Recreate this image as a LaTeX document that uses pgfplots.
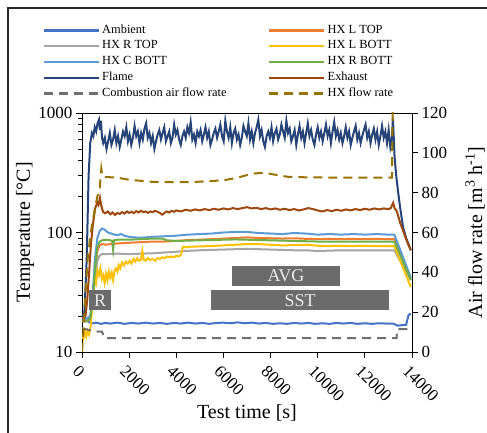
\documentclass[border=0pt]{standalone}
\usepackage{fontspec}
\setmainfont{Liberation Serif}
\usepackage{pgfplots}
\pgfplotsset{compat=1.18}
\definecolor{cAmb}{HTML}{4472C4}
\definecolor{cLT}{HTML}{ED7D31}
\definecolor{cRT}{HTML}{A5A5A5}
\definecolor{cLB}{HTML}{FFC000}
\definecolor{cCB}{HTML}{5B9BD5}
\definecolor{cRB}{HTML}{70AD47}
\definecolor{cFl}{HTML}{264478}
\definecolor{cEx}{HTML}{9E480E}
\definecolor{cCA}{HTML}{707070}
\definecolor{cHF}{HTML}{997300}
\definecolor{cBox}{HTML}{6B6B6B}
\pgfplotsset{mylegend/.style={legend image code/.code={\draw[line width=2.2pt,##1] (0pt,0pt) -- (55pt,0pt);}}}
\begin{document}
\begin{tikzpicture}
\path[use as bounding box] (0,0) rectangle (487pt,433pt);
\draw[line width=1.2pt, black!85] (8pt,0pt) -- (8pt,425pt) -- (487pt,425pt);
\begin{axis}[
  at={(82pt,81pt)}, anchor=south west,
  scale only axis, width=330pt, height=239pt,
  xmin=0, xmax=14000, ymode=log, ymin=10, ymax=1000,
  scaled x ticks=false,
  xtick={0,2000,4000,6000,8000,10000,12000,14000},
  xticklabels={0,2000,4000,6000,8000,10000,12000,14000},
  ytick={10,100,1000}, yticklabels={10,100,1000},
  minor ytick={20,30,40,50,60,70,80,90,200,300,400,500,600,700,800,900},
  xtick pos=bottom, ytick pos=left,
  tick align=outside,
  major tick length=6pt, minor tick length=4pt,
  axis line style={line width=0.9pt, black},
  every tick/.style={black, line width=0.8pt},
  every minor tick/.style={black, line width=0.7pt},
  ticklabel style={font=\fontsize{17}{20}\selectfont},
  xticklabel style={rotate=-45, anchor=north west, inner sep=1pt, xshift=2pt, yshift=-5pt},
  xlabel={Test time [s]}, ylabel={Temperature [°C]},
  label style={font=\fontsize{20}{24}\selectfont},
  xlabel style={at={(axis description cs:0.5,-0.2552)}, anchor=center},
  ylabel style={at={(axis description cs:-0.1727,0.5)}, anchor=center},
  no marks,
  every axis plot/.append style={line width=2pt},
]
% Ambient
\addplot[color=cAmb] coordinates {(0,20)(100,19.5)(200,18.5)(300,17.8)(400,17.3)(600,17.6)(800,17.2)(1000,17.5)(1200,17.3)(1500,17.6)(1800,17.2)(2100,17.5)(2400,17.3)(2700,17.6)(3000,17.3)(3300,17.5)(3600,17.2)(3900,17.5)(4200,17.3)(4500,17.6)(4800,17.3)(5100,17.5)(5400,17.2)(5700,17.5)(6000,17.6)(6300,17.4)(6600,17.7)(6900,17.4)(7200,17.6)(7500,17.3)(7800,17.5)(8100,17.2)(8400,17.4)(8700,17.2)(9000,17.5)(9300,17.3)(9600,17.5)(9900,17.2)(10200,17.4)(10500,17.2)(10800,17.5)(11100,17.3)(11400,17.5)(11700,17.2)(12000,17.4)(12300,17.2)(12600,17.4)(12900,17.3)(13200,17.3)(13400,16.6)(13600,16.8)(13750,16.9)(13850,20.3)(13950,21)};
% HX L TOP
\addplot[color=cLT] coordinates {(0,18)(200,18)(350,19)(450,25)(550,45)(650,70)(750,78)(850,80)(1000,79)(1200,80)(1500,81)(2000,82)(2500,83)(3000,84)(3500,84)(4000,85)(4500,86.5)(5000,87)(5500,88)(6000,89)(6500,90)(7000,91)(7500,90)(8000,89.5)(8500,89)(9000,89.5)(9500,88.5)(10000,88)(10500,88.5)(11000,88)(11500,88.5)(12000,88)(12500,88.5)(13000,88)(13250,88)(13950,41)};
% HX R TOP
\addplot[color=cRT] coordinates {(0,19)(200,19)(350,20)(450,25)(550,40)(650,58)(750,64)(850,66)(1000,66)(1500,66.5)(2000,66)(2500,66.5)(3000,67)(3500,68)(4000,69)(4300,70)(5000,71)(5500,71.5)(6000,72)(6500,72.5)(7000,73)(7500,72.5)(8000,72)(8500,71.5)(9000,71)(9500,71)(10000,70)(10500,70.5)(11000,71)(11500,71)(12000,71)(12500,71)(13000,71)(13250,71)(13950,40)};
% HX L BOTT
\addplot[color=cLB] coordinates {(0,14)(60,13)(120,15)(180,13.5)(240,15)(300,14)(360,16)(420,22)(480,32)(540,42)(600,38)(660,48)(720,44)(780,50)(840,41)(900,44)(960,38)(1020,45)(1080,40)(1140,47)(1200,42)(1260,46)(1320,40)(1380,48)(1440,50)(1500,47)(1560,53)(1620,50)(1700,56)(1780,53)(1860,57)(1940,55)(2020,58)(2100,55)(2180,60)(2260,57)(2340,61)(2420,58)(2500,59)(2560,70)(2620,59)(2700,58)(2800,61)(2900,59)(3000,60)(3100,58)(3200,61)(3300,60)(3400,62)(3500,61)(3600,63)(3700,62)(3800,63)(3900,62)(4000,64)(4100,63)(4200,65)(4280,76)(4400,75)(4600,76)(5000,76.5)(5500,77)(6000,78)(6500,79)(7000,80)(7500,80)(8000,79)(8500,78)(9000,78.5)(9500,79)(10000,77.5)(10500,77)(11000,77.5)(11500,77)(12000,77.5)(12500,77)(13000,77)(13250,77)(13950,35)};
% HX C BOTT
\addplot[color=cCB] coordinates {(0,19)(200,19)(350,20)(450,30)(550,60)(650,90)(750,103)(850,108)(950,106)(1100,100)(1300,97)(1500,95)(1650,97)(1800,94)(2000,92)(2200,91)(2500,90.5)(3000,92)(3500,93)(4000,94)(4500,96)(5000,97)(5500,98)(6000,100)(6500,101)(7000,101)(7500,99)(8000,98)(8500,97)(9000,99)(9500,98)(10000,96)(10500,97)(11000,96)(11500,97)(12000,96)(12500,97)(13000,96)(13250,96)(13950,42)};
% HX R BOTT
\addplot[color=cRB] coordinates {(0,18)(200,18)(350,19)(450,26)(550,50)(650,75)(750,84)(850,86)(1000,87)(1200,86)(1280,85)(1320,72)(1360,86)(1500,87)(2000,87)(2500,88)(3000,89)(3400,89)(3600,86)(4000,85)(4500,85.5)(5000,86)(5500,86.5)(6000,87)(6500,87.5)(7000,87)(7500,86.5)(8000,86)(8500,85.5)(9000,85)(9500,84.5)(10000,84)(10500,84)(11000,84)(11500,84)(12000,84)(12500,84)(13000,84)(13250,84)(13950,40)};
% Flame
\addplot[color=cFl] coordinates {(0,20)(100,21)(200,60)(280,300)(350,560)(420,680)(480,640)(540,760)(600,700)(660,820)(720,880)(760,720)(800,860)(850,620)
(900,560)(970,620)(1040,500)(1110,580)(1180,680)(1250,540)(1320,600)(1390,720)(1460,560)(1530,640)
(1600,520)(1670,600)(1740,700)(1810,640)(1880,760)(1950,580)(2020,660)(2090,540)(2160,620)(2230,780)
(2300,640)(2370,700)(2440,560)(2510,680)(2580,600)(2650,740)(2720,820)(2790,620)(2860,680)(2930,560)
(3000,640)(3070,500)(3140,580)(3210,660)(3280,720)(3350,600)(3420,680)(3490,760)(3560,580)(3630,640)
(3700,700)(3770,560)(3840,620)(3910,800)(3980,660)(4050,720)(4120,600)(4190,540)(4260,640)(4330,700)
(4400,620)(4470,760)(4540,680)(4610,840)(4680,600)(4750,660)(4820,560)(4890,700)(4960,640)(5030,720)
(5100,580)(5170,660)(5240,760)(5310,620)(5380,700)(5450,540)(5520,600)(5590,680)(5660,740)(5730,620)
(5800,700)(5870,800)(5940,640)(6010,580)(6080,860)(6150,700)(6220,620)(6290,760)(6360,560)(6430,680)
(6500,740)(6570,600)(6640,660)(6710,540)(6780,620)(6850,780)(6920,700)(6990,640)(7060,820)(7130,600)
(7200,700)(7270,560)(7340,680)(7410,760)(7480,880)(7550,640)(7620,720)(7690,580)(7760,520)(7830,640)
(7900,700)(7970,620)(8040,760)(8110,580)(8180,680)(8250,740)(8320,600)(8390,660)(8460,800)(8530,700)
(8600,620)(8670,860)(8740,680)(8810,740)(8880,580)(8950,640)(9020,720)(9090,540)(9160,660)(9230,780)
(9300,620)(9370,700)(9440,560)(9510,680)(9580,820)(9650,640)(9720,720)(9790,600)(9860,540)(9930,660)
(10000,760)(10070,620)(10140,700)(10210,580)(10280,680)(10350,800)(10420,640)(10490,720)(10560,560)(10630,700)
(10700,840)(10770,640)(10840,720)(10910,600)(10980,680)(11050,560)(11120,640)(11190,760)(11260,620)(11330,700)
(11400,540)(11470,620)(11540,700)(11610,780)(11680,600)(11750,680)(11820,560)(11890,640)(11960,720)(12030,800)
(12100,620)(12170,700)(12240,560)(12310,660)(12380,740)(12450,600)(12520,700)(12590,540)(12660,640)(12730,780)
(12800,620)(12870,700)(12940,560)(13010,720)(13080,520)(13150,620)(13190,900)(13230,600)(13260,430)(13330,300)(13400,227)(13500,160)(13620,111)(13750,90)(13850,80)(13950,71)};
% Exhaust
\addplot[color=cEx] coordinates {(0,19)(150,20)(220,27)(300,45)(380,80)(470,120)(560,160)(650,178)(700,170)(760,195)(800,175)(850,158)(900,148)(980,145)(1100,150)(1200,142)(1300,147)(1400,140)(1500,146)(1600,143)(1700,148)(1800,144)(1900,150)(2000,146)(2100,149)(2200,145)(2300,151)(2400,147)(2500,152)(2600,148)(2700,150)(2800,146)(2900,150)(3000,148)(3100,152)(3200,149)(3300,146)(3400,141)(3500,146)(3600,150)(3700,147)(3800,152)(3900,149)(4000,153)(4200,150)(4400,155)(4600,152)(4800,156)(5000,153)(5200,157)(5400,154)(5600,158)(5800,155)(6000,159)(6200,156)(6400,160)(6600,157)(6800,160)(7000,163)(7200,159)(7400,161)(7600,157)(7800,160)(8000,156)(8200,159)(8400,155)(8600,158)(8800,154)(9000,157)(9200,153)(9400,156)(9600,160)(9800,157)(10000,153)(10200,150)(10400,154)(10600,151)(10800,155)(11000,152)(11200,156)(11400,153)(11600,157)(11800,154)(12000,158)(12200,155)(12400,159)(12600,156)(12800,159)(13000,157)(13100,160)(13200,177)(13260,160)(13360,150)(13500,120)(13650,100)(13800,83)(13950,71)};
\end{axis}
\begin{axis}[
  at={(82pt,81pt)}, anchor=south west,
  scale only axis, width=330pt, height=239pt,
  xmin=0, xmax=14000, ymin=0, ymax=120,
  axis x line=none, axis y line*=right,
  scaled x ticks=false, xtick=\empty,
  y axis line style={-, line width=0.9pt, black},
  ytick={0,20,40,60,80,100,120}, yticklabels={0,20,40,60,80,100,120},
  tick align=outside, major tick length=6pt,
  every tick/.style={black, line width=0.8pt},
  ticklabel style={font=\fontsize{17}{20}\selectfont},
  ylabel={Air flow rate [m\textsuperscript{3} h\textsuperscript{-1}]},
  label style={font=\fontsize{20}{24}\selectfont},
  ylabel style={at={(axis description cs:1.1909,0.5)}, anchor=center},
  no marks,
  every axis plot/.append style={line width=2pt},
  legend style={at={(0,1)}, anchor=north west, xshift=-39.5pt, yshift=88.75pt,
    draw=none, fill=none, inner sep=0pt, outer sep=0pt,
    font=\fontsize{12.4}{14}\selectfont,
    nodes={inner xsep=2.5pt, inner ysep=0pt, text height=9pt, text depth=3.5pt},
    row sep=3.25pt,
    /tikz/every even column/.append style={column sep=39pt}},
  legend columns=2, legend cell align=left,
]
\addlegendimage{color=cAmb, mylegend}\addlegendentry{Ambient}
\addlegendimage{color=cLT, mylegend}\addlegendentry{HX L TOP}
\addlegendimage{color=cRT, mylegend}\addlegendentry{HX R TOP}
\addlegendimage{color=cLB, mylegend}\addlegendentry{HX L BOTT}
\addlegendimage{color=cCB, mylegend}\addlegendentry{HX C BOTT}
\addlegendimage{color=cRB, mylegend}\addlegendentry{HX R BOTT}
\addlegendimage{color=cFl, mylegend}\addlegendentry{Flame}
\addlegendimage{color=cEx, mylegend}\addlegendentry{Exhaust}
\addplot[color=cCA, dash pattern=on 9pt off 6pt, mylegend] coordinates {(0,12)(300,11)(700,10.2)(850,10.2)(950,7)(13350,7)(13360,11.5)(13840,11.5)};
\addlegendentry{Combustion air flow rate}
\addplot[color=cHF, dash pattern=on 9pt off 6pt, mylegend] coordinates {(0,0)(60,10)(150,30)(250,48)(400,62)(550,72)(650,78)(750,82)(820,92)(870,88)(1500,87.5)(2000,86.5)(3000,85.4)(4000,85.2)(5000,85.5)(6000,86.2)(6600,87.5)(7200,89.5)(7700,90)(8200,89)(8700,88)(9500,87.7)(10500,87.6)(11500,87.6)(12500,87.6)(13150,87.6)(13180,125)};
\addlegendentry{HX flow rate}
\fill[cBox] (300,21) rectangle (1230,31);
\node[text=white!92!black, font=\fontsize{18}{20}\selectfont] at (765,26) {R};
\fill[cBox] (6364,33.2) rectangle (10945,43.2);
\node[text=white!92!black, font=\fontsize{18}{20}\selectfont] at (8655,38.2) {AVG};
\fill[cBox] (5473,21) rectangle (13024,31);
\node[text=white!92!black, font=\fontsize{18}{20}\selectfont] at (9250,26) {SST};
\end{axis}
\end{tikzpicture}
\end{document}
